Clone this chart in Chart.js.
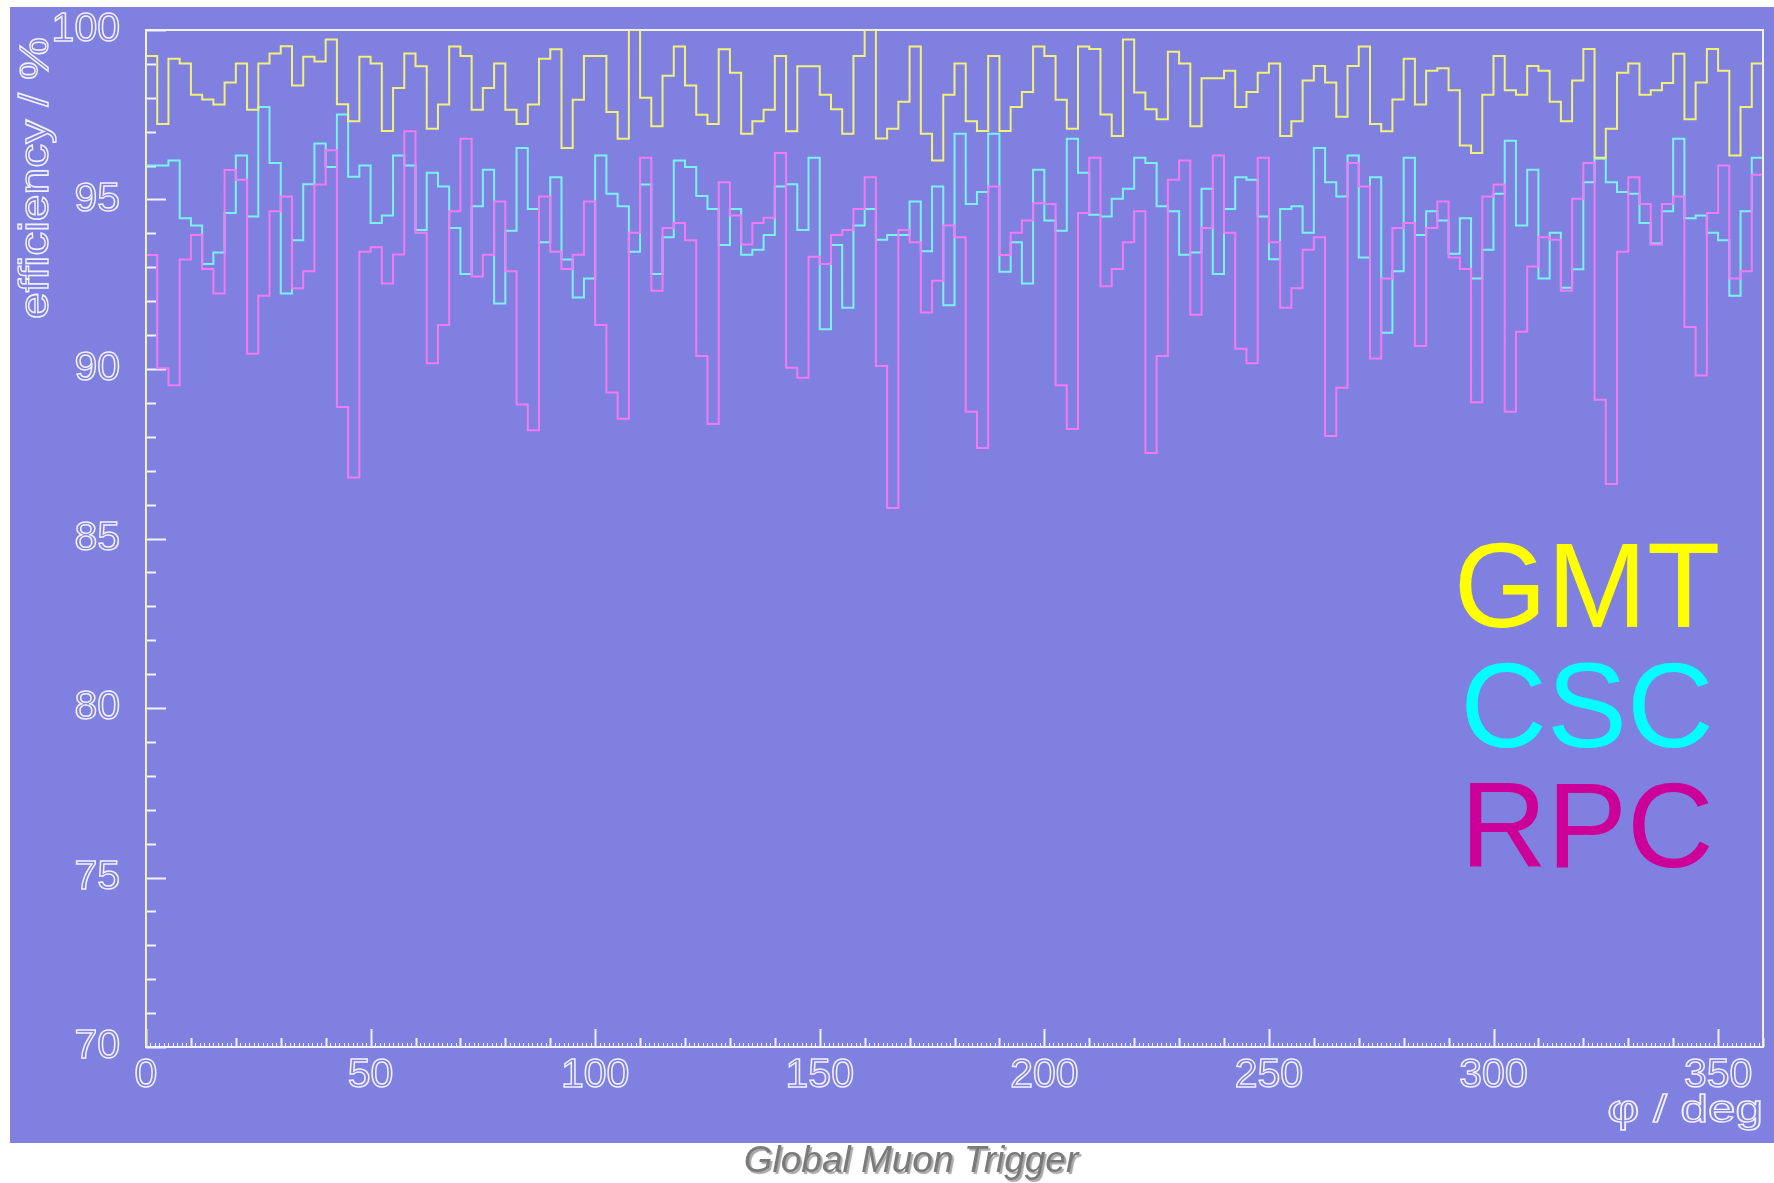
<!DOCTYPE html>
<html>
<head>
<meta charset="utf-8">
<title>Global Muon Trigger – efficiency vs φ</title>
<script src="https://cdn.jsdelivr.net/npm/chart.js@4.4.1/dist/chart.umd.min.js"></script>
<style>
  html, body { margin: 0; padding: 0; background: #fff; }
  canvas { display: block; }
</style>
</head>
<body>
<canvas id="effChart" width="1774" height="1183"></canvas>
<script>
/* ============================================================
   GMT / CSC / RPC trigger efficiency vs phi (2.5 deg bins)
   ============================================================ */

// ── Data ─────────────────────────────────────────────────────
const PHI_MIN = 0, PHI_MAX = 360, BIN_WIDTH = 2.5;
const EFF_MIN = 70, EFF_MAX = 100;

const gmtEff = [
  99.23, 97.23, 99.15, 99.01, 98.09, 97.95, 97.80, 98.45, 99.01, 97.65, 99.01, 99.31,
  99.52, 98.36, 99.21, 99.07, 99.72, 97.81, 97.31, 99.21, 99.01, 97.02, 98.29, 99.31,
  98.93, 97.09, 97.80, 99.51, 99.23, 97.65, 98.29, 99.01, 97.65, 97.23, 97.80, 99.15,
  99.43, 96.52, 97.94, 99.23, 99.23, 97.58, 96.79, 100.0, 98.00, 97.16, 98.65, 99.51,
  98.36, 97.50, 97.23, 99.43, 98.74, 96.94, 97.31, 97.65, 99.23, 97.01, 98.93, 98.93,
  98.09, 97.66, 96.94, 99.23, 100.0, 96.80, 97.09, 97.88, 99.51, 96.94, 96.15, 98.09,
  99.01, 97.31, 97.02, 99.23, 97.02, 97.73, 98.17, 99.51, 99.23, 97.94, 97.09, 99.51,
  99.44, 97.51, 96.87, 99.72, 98.16, 97.66, 97.37, 99.36, 99.01, 97.16, 98.58, 98.58,
  98.80, 97.73, 98.17, 98.74, 99.01, 96.87, 97.31, 98.51, 98.94, 98.45, 97.44, 98.94,
  99.51, 97.23, 97.01, 97.95, 99.15, 97.80, 98.80, 98.87, 98.22, 96.59, 96.37, 98.09,
  99.23, 98.22, 98.09, 98.94, 98.80, 97.88, 97.31, 98.51, 99.44, 96.23, 97.09, 98.74,
  99.01, 98.09, 98.22, 98.44, 99.30, 97.37, 98.45, 99.44, 98.80, 96.30, 97.73, 99.01
];

const cscEff = [
  96.00, 96.00, 96.15, 94.45, 94.23, 93.10, 93.44, 94.60, 96.30, 94.50, 97.73, 96.08,
  92.23, 93.80, 95.45, 96.65, 95.96, 97.51, 95.67, 96.00, 94.31, 94.53, 96.30, 96.00,
  94.10, 95.79, 95.38, 94.16, 92.80, 94.80, 95.88, 91.93, 94.08, 96.52, 94.72, 93.74,
  95.66, 93.23, 92.11, 92.67, 96.30, 95.17, 94.80, 93.46, 95.44, 92.80, 93.89, 96.15,
  95.96, 95.10, 94.72, 93.66, 94.72, 93.37, 93.52, 93.95, 95.38, 95.45, 94.10, 96.23,
  91.17, 93.66, 91.81, 94.23, 94.72, 93.81, 93.95, 93.95, 94.94, 93.47, 95.38, 91.88,
  96.94, 94.87, 95.22, 96.94, 92.87, 93.74, 92.52, 95.88, 94.38, 94.08, 96.79, 95.79,
  94.55, 94.50, 95.02, 95.32, 96.23, 96.08, 94.80, 94.65, 93.37, 93.44, 95.32, 92.80,
  94.72, 95.66, 95.58, 94.50, 93.24, 94.72, 94.80, 94.02, 96.52, 95.51, 95.09, 96.30,
  93.29, 95.66, 91.07, 92.88, 96.23, 93.95, 94.65, 94.38, 93.40, 94.45, 92.67, 93.52,
  95.17, 96.73, 94.23, 95.88, 92.67, 94.02, 92.40, 92.94, 95.51, 96.20, 95.51, 95.22,
  95.17, 94.31, 93.70, 94.65, 96.79, 94.45, 94.53, 94.02, 93.80, 92.16, 94.65, 96.23
];

const rpcEff = [
  93.36, 90.02, 89.52, 93.23, 93.95, 92.95, 92.23, 95.87, 95.58, 90.45, 92.16, 94.65,
  95.09, 92.38, 92.88, 95.44, 96.45, 88.88, 86.80, 93.46, 93.59, 92.52, 93.38, 97.01,
  94.02, 90.17, 91.30, 94.65, 96.79, 92.73, 93.37, 94.94, 92.88, 88.95, 88.19, 95.09,
  93.46, 92.95, 93.37, 94.94, 91.30, 89.31, 88.53, 94.02, 96.23, 92.31, 94.16, 94.31,
  93.80, 90.38, 88.38, 95.51, 94.53, 93.67, 94.31, 94.46, 96.37, 90.04, 89.74, 93.31,
  93.10, 93.95, 94.10, 94.72, 95.66, 90.09, 85.90, 94.10, 93.74, 91.67, 92.60, 94.23,
  93.89, 88.74, 87.67, 95.38, 93.36, 94.02, 94.38, 94.89, 94.87, 89.52, 88.23, 94.60,
  96.23, 92.44, 92.95, 93.74, 94.65, 87.52, 90.38, 95.58, 96.15, 91.60, 94.16, 96.30,
  94.02, 90.60, 90.17, 96.23, 93.74, 91.81, 92.38, 93.52, 93.89, 88.02, 89.45, 96.08,
  95.38, 90.31, 92.67, 94.16, 94.31, 90.68, 94.16, 94.94, 93.29, 92.95, 89.02, 95.09,
  95.44, 88.74, 91.10, 93.02, 93.89, 93.81, 92.31, 95.02, 96.08, 89.09, 86.61, 93.46,
  95.66, 94.87, 93.67, 94.87, 95.09, 91.24, 89.81, 94.60, 96.00, 92.67, 92.88, 95.73
];

const xTickValues = [0, 50, 100, 150, 200, 250, 300, 350];
const yTickValues = [70, 75, 80, 85, 90, 95, 100];
const legendLabels = ['GMT', 'CSC', 'RPC'];

// ── Look ─────────────────────────────────────────────────────
const PANEL_BG    = '#8080e0';
const AXIS_COLOR  = '#f2f2ff';
const LINE_COLORS = { gmt: '#f2f27a', csc: '#7af2f2', rpc: '#f27af2' };
const TEXT_COLORS = { GMT: '#ffff00', CSC: '#00ffff', RPC: '#cc0099' };
const HIGZ_FONT   = '"Liberation Sans", Arial, sans-serif';

// Histogram outline: starts and ends on the x axis, one step per bin
function histPoints(values) {
  const pts = [{ x: PHI_MIN, y: EFF_MIN }];
  values.forEach((v, i) => pts.push({ x: PHI_MIN + i * BIN_WIDTH, y: v }));
  pts.push({ x: PHI_MIN + values.length * BIN_WIDTH, y: values[values.length - 1] });
  pts.push({ x: PHI_MIN + values.length * BIN_WIDTH, y: EFF_MIN });
  return pts;
}

function histDataset(label, values, color, order) {
  return {
    label, order,
    data: histPoints(values),
    borderColor: color,
    borderWidth: 2,
    pointRadius: 0,
    stepped: 'before',
    fill: false
  };
}

// ── Plugins ──────────────────────────────────────────────────
const panelBackground = {
  id: 'panelBackground',
  beforeDraw(chart) {
    const { ctx, width, height } = chart;
    ctx.save();
    ctx.fillStyle = '#ffffff';
    ctx.fillRect(0, 0, width, height);
    ctx.fillStyle = PANEL_BG;
    ctx.fillRect(10, 7, width - 10, 1136);
    ctx.restore();
  }
};

const frameAndTicks = {
  id: 'frameAndTicks',
  beforeDatasetsDraw(chart) {
    const { ctx, chartArea: a, scales: { x, y } } = chart;
    ctx.save();
    ctx.strokeStyle = AXIS_COLOR;
    ctx.lineWidth = 2;
    ctx.strokeRect(a.left, a.top, a.right - a.left, a.bottom - a.top);

    // y ticks: every 1 %, long ones on the labelled values
    ctx.beginPath();
    for (let v = EFF_MIN; v <= EFF_MAX; v++) {
      const py = Math.round(y.getPixelForValue(v)) + 0.5;
      const len = yTickValues.includes(v) ? 20 : 10;
      ctx.moveTo(a.left, py);
      ctx.lineTo(a.left + len, py);
    }
    // x ticks: every 10 deg, long ones on the labelled values
    for (let v = PHI_MIN; v <= PHI_MAX; v += 10) {
      const px = Math.round(x.getPixelForValue(v)) + 0.5;
      const len = xTickValues.includes(v) ? 18 : 9;
      ctx.moveTo(px, a.bottom);
      ctx.lineTo(px, a.bottom - len);
    }
    ctx.stroke();

    // fine ticks along the phi axis
    ctx.lineWidth = 1;
    ctx.beginPath();
    for (let v = PHI_MIN; v <= PHI_MAX; v += 1) {
      const px = Math.round(x.getPixelForValue(v)) + 0.5;
      ctx.moveTo(px, a.bottom);
      ctx.lineTo(px, a.bottom - 4);
    }
    ctx.stroke();
    ctx.restore();
  }
};

function outlineText(ctx, text, x, y, stretch) {
  ctx.save();
  ctx.translate(x, y);
  ctx.scale(stretch, 1);
  ctx.strokeText(text, 0, 0);
  ctx.restore();
}

const annotations = {
  id: 'annotations',
  afterDraw(chart) {
    const { ctx, chartArea: a } = chart;
    ctx.save();

    // axis titles (hollow, wide HIGZ-like lettering)
    ctx.strokeStyle = AXIS_COLOR;
    ctx.lineWidth = 1.4;
    ctx.font = `40px ${HIGZ_FONT}`;
    ctx.textBaseline = 'middle';
    ctx.textAlign = 'center';
    ctx.save();
    ctx.translate(37, 178);
    ctx.rotate(-Math.PI / 2);
    outlineText(ctx, 'efficiency / %', 0, 0, 1.2);
    ctx.restore();

    ctx.font = `38px ${HIGZ_FONT}`;
    ctx.textAlign = 'right';
    ctx.textBaseline = 'alphabetic';
    outlineText(ctx, 'φ / deg', a.right, 1122, 1.3);

    // big coloured legend
    ctx.font = `120px ${HIGZ_FONT}`;
    ctx.textAlign = 'center';
    legendLabels.forEach((name, i) => {
      ctx.fillStyle = TEXT_COLORS[name];
      ctx.fillText(name, 1587, 627 + i * 120);
    });

    // caption under the panel
    ctx.font = `italic 37px ${HIGZ_FONT}`;
    ctx.textAlign = 'center';
    ctx.textBaseline = 'middle';
    ctx.shadowColor = 'rgba(0,0,0,0.35)';
    ctx.shadowOffsetX = 2;
    ctx.shadowOffsetY = 2;
    ctx.shadowBlur = 1;
    ctx.fillStyle = '#7a7a7a';
    ctx.fillText('Global Muon Trigger', 911, 1162);
    ctx.restore();
  }
};

// ── Chart ────────────────────────────────────────────────────
const hollowTicks = {
  color: 'rgba(0,0,0,0)',
  textStrokeColor: AXIS_COLOR,
  textStrokeWidth: 1.5,
  autoSkip: false,
  maxRotation: 0
};

new Chart(document.getElementById('effChart'), {
  type: 'line',
  data: {
    datasets: [
      histDataset('GMT', gmtEff, LINE_COLORS.gmt, 0),
      histDataset('RPC', rpcEff, LINE_COLORS.rpc, 1),
      histDataset('CSC', cscEff, LINE_COLORS.csc, 2)
    ]
  },
  options: {
    responsive: false,
    animation: false,
    events: [],
    layout: { padding: { top: 30, right: 11, bottom: 0, left: 0 } },
    plugins: { legend: { display: false }, tooltip: { enabled: false } },
    scales: {
      x: {
        type: 'linear',
        min: PHI_MIN,
        max: PHI_MAX,
        grid: { display: false },
        border: { display: false },
        afterBuildTicks: s => { s.ticks = xTickValues.map(v => ({ value: v })); },
        afterFit: s => { s.height = 136; },
        ticks: { ...hollowTicks, font: { family: HIGZ_FONT, size: 41, lineHeight: 1.0 }, padding: 0 }
      },
      y: {
        type: 'linear',
        min: EFF_MIN,
        max: EFF_MAX,
        grid: { display: false },
        border: { display: false },
        afterBuildTicks: s => { s.ticks = yTickValues.map(v => ({ value: v })); },
        afterFit: s => { s.width = 146; },
        // small line height keeps the label overhang from pushing the plot down
        ticks: { ...hollowTicks, font: { family: HIGZ_FONT, size: 41, lineHeight: 0.5 }, padding: 18 }
      }
    }
  },
  plugins: [panelBackground, frameAndTicks, annotations]
});
</script>
</body>
</html>
